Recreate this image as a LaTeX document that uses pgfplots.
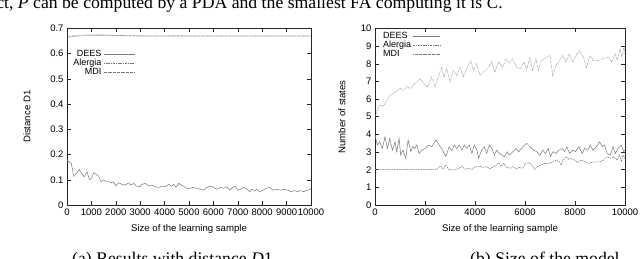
\documentclass[border=0pt]{standalone}
\usepackage{pgfplots}
\pgfplotsset{compat=1.18}
\usepackage{fontspec}
\setmainfont{Liberation Sans}
\newfontfamily\seriffont{Liberation Serif}
\definecolor{lgray}{gray}{0.48}
\pgfplotsset{gp/.style={
  scale only axis, tick align=inside, major tick length=4pt,
  axis line style={black!85, line width=0.5pt},
  every tick/.style={black!85, line width=0.5pt},
  tick label style={font=\fontsize{9.5}{11}\selectfont},
  label style={font=\fontsize{9.6}{11}\selectfont},
  /pgf/number format/assume math mode=true,
  scaled ticks=false,
  x tick label style={/pgf/number format/1000 sep={}},
  legend style={draw=none, fill=none, font=\fontsize{9}{9}\selectfont, row sep=-3pt, inner sep=0pt},
  legend plot pos=right,
  xmin=0, xmax=10000,
}}
\begin{document}
\begin{tikzpicture}[x=1pt,y=1pt]
\useasboundingbox (0,0) rectangle (640,259);
\clip (0,0) rectangle (640,259);
\node[anchor=base east, font=\seriffont\fontsize{17.7}{20}\selectfont, inner sep=0] at (503,250) {fact, \textit{P} can be computed by a PDA and the smallest FA computing it is \textit{C}.};
\node[anchor=base west, font=\seriffont\fontsize{17.7}{20}\selectfont, inner sep=0] at (72,-5.5) {(a) Results with distance \textit{D}1};
\node[anchor=base west, font=\seriffont\fontsize{17.7}{20}\selectfont, inner sep=0] at (470,-5.5) {(b) Size of the model};

\begin{axis}[gp, at={(67pt,54pt)}, anchor=south west, width=244pt, height=176.5pt,
  ymin=0, ymax=0.7, ytick={0,0.1,0.2,0.3,0.4,0.5,0.6,0.7},
  yticklabels={0,0.1,0.2,0.3,0.4,0.5,0.6,0.7},
  xtick={0,1000,2000,3000,4000,5000,6000,7000,8000,9000,10000},
  xlabel={Size of the learning sample}, ylabel={Distance D1},
  xlabel style={at={(axis description cs:0.5,-0.136)}, anchor=center},
  ylabel style={at={(axis description cs:-0.164,0.5)}, anchor=center},
  legend style={at={(axis description cs:0.279,0.89)}, anchor=north east, cells={anchor=east}},
  legend image code/.code={\draw[#1] (0pt,0pt) -- (31pt,0pt);},
]
\addplot[lgray, line width=0.5pt] coordinates {
(0,0.178)(96,0.171)(178,0.164)(273,0.114)(383,0.125)(505,0.141)(615,0.122)(710,0.112)(820,0.132)(915,0.101)(997,0.105)(1093,0.128)(1202,0.121)(1298,0.114)(1393,0.092)(1503,0.099)(1612,0.092)(1708,0.092)(1817,0.088)(1912,0.092)(1994,0.076)(2117,0.088)(2254,0.082)(2391,0.079)(2527,0.088)(2623,0.079)(2732,0.086)(2841,0.075)(2978,0.072)(3073,0.082)(3210,0.086)(3347,0.075)(3483,0.079)(3620,0.072)(3757,0.070)(3893,0.075)(4030,0.072)(4166,0.082)(4276,0.075)(4371,0.082)(4467,0.070)(4576,0.086)(4685,0.079)(4781,0.075)(4890,0.066)(5027,0.066)(5163,0.070)(5327,0.066)(5464,0.062)(5601,0.059)(5737,0.070)(5874,0.075)(6010,0.070)(6147,0.062)(6284,0.070)(6420,0.066)(6557,0.072)(6666,0.059)(6789,0.070)(6898,0.075)(6994,0.059)(7103,0.062)(7240,0.070)(7376,0.062)(7486,0.053)(7581,0.062)(7690,0.057)(7786,0.062)(7895,0.053)(8032,0.059)(8169,0.066)(8305,0.070)(8442,0.059)(8579,0.062)(8742,0.059)(8906,0.062)(9043,0.059)(9180,0.053)(9316,0.057)(9453,0.053)(9562,0.057)(9699,0.053)(9835,0.059)(9945,0.060)(10000,0.066)};
\addlegendentry{DEES}
\addplot[lgray, line width=0.5pt, dash pattern=on 1.6pt off 0.8pt] coordinates {
(0,0.664)(200,0.668)(400,0.670)(700,0.671)(1000,0.672)(1300,0.673)(1600,0.673)(2000,0.672)(2500,0.671)(3000,0.670)(4000,0.670)(5000,0.670)(6000,0.670)(7000,0.670)(8000,0.670)(9000,0.670)(10000,0.670)};
\addlegendentry{Alergia}
\addplot[lgray, line width=0.5pt, dash pattern=on 0.5pt off 0.8pt] coordinates {
(0,0.665)(150,0.669)(300,0.672)(500,0.673)(700,0.674)(900,0.675)(1100,0.674)(1300,0.676)(1500,0.675)(1700,0.674)(1900,0.673)(2200,0.672)(2600,0.671)(3000,0.672)(3500,0.671)(4000,0.671)(4500,0.672)(5000,0.671)(6000,0.671)(7000,0.671)(8000,0.671)(9000,0.671)(10000,0.671)};
\addlegendentry{MDI}
\end{axis}

\begin{axis}[gp, at={(375pt,54pt)}, anchor=south west, width=250pt, height=176.5pt,
  ymin=0, ymax=10, ytick={0,1,2,3,4,5,6,7,8,9,10},
  xtick={0,2000,4000,6000,8000,10000},
  xlabel={Size of the learning sample}, ylabel={Number of states},
  xlabel style={at={(axis description cs:0.5,-0.136)}, anchor=center},
  ylabel style={at={(axis description cs:-0.132,0.5)}, anchor=center},
  legend style={at={(axis description cs:0.024,0.99)}, anchor=north west, cells={anchor=west}},
  legend image code/.code={\draw[#1] (16pt,0pt) -- (43pt,0pt);},
]
\addplot[lgray, line width=0.5pt] coordinates {
(0,3.96)(94,3.40)(187,3.58)(294,3.20)(401,3.87)(495,3.20)(588,3.77)(695,3.11)(802,3.58)(869,3.02)(963,3.77)(1029,2.83)(1123,3.11)(1230,2.64)(1324,3.68)(1431,3.02)(1497,3.30)(1591,3.20)(1671,3.40)(1765,2.92)(1872,3.11)(2005,3.20)(2139,3.40)(2273,3.30)(2433,3.68)(2567,3.40)(2700,3.11)(2834,2.74)(2968,3.30)(3075,3.08)(3169,3.40)(3276,3.20)(3369,3.40)(3476,3.11)(3570,3.40)(3677,3.20)(3770,3.40)(3877,2.92)(3971,3.40)(4078,3.11)(4145,2.64)(4265,3.11)(4372,3.30)(4466,2.92)(4573,3.40)(4679,3.20)(4773,2.83)(4867,3.11)(4974,2.92)(5081,2.83)(5175,2.74)(5282,3.02)(5375,2.83)(5509,3.02)(5643,3.20)(5749,3.02)(5910,3.30)(6070,3.49)(6204,3.30)(6337,3.11)(6471,3.02)(6605,2.83)(6712,3.11)(6819,2.92)(6926,3.20)(7019,2.74)(7113,3.02)(7247,2.92)(7354,3.11)(7487,3.20)(7581,3.02)(7675,3.30)(7781,2.92)(7915,3.11)(8022,3.02)(8156,3.30)(8289,2.92)(8383,3.20)(8517,3.11)(8610,3.40)(8717,3.11)(8851,3.30)(8985,3.58)(9092,3.30)(9185,3.40)(9279,2.92)(9413,2.83)(9520,3.30)(9613,2.92)(9720,3.20)(9854,3.40)(9947,3.02)(10000,3.11)};
\addlegendentry{DEES}
\addplot[lgray, line width=0.5pt, dash pattern=on 1.6pt off 0.8pt] coordinates {
(0,2.0)(500,2.0)(1000,2.0)(1500,2.0)(2000,2.0)(2433,2.0)(2540,2.13)(2634,2.20)(2727,2.06)(2834,2.26)(2941,2.02)(3102,1.98)(3262,2.02)(3369,2.08)(3476,2.20)(3610,2.02)(3744,2.08)(3877,2.02)(4038,2.17)(4198,2.20)(4332,2.13)(4466,2.17)(4600,2.06)(4733,2.17)(4867,2.26)(4947,2.40)(5041,2.17)(5148,2.36)(5268,2.13)(5402,2.08)(5509,2.17)(5643,2.06)(5776,2.13)(5910,2.08)(6017,2.36)(6150,2.40)(6284,2.26)(6378,2.02)(6511,2.20)(6645,2.26)(6779,2.36)(6979,2.36)(7113,2.45)(7247,2.55)(7380,2.45)(7447,2.26)(7514,2.55)(7648,2.74)(7755,2.58)(7848,2.64)(7982,2.55)(8116,2.40)(8249,2.55)(8383,2.45)(8517,2.36)(8650,2.40)(8824,2.45)(8985,2.45)(9145,2.55)(9279,2.74)(9413,2.64)(9547,2.74)(9680,2.55)(9787,2.83)(9854,2.45)(9920,2.83)(10000,2.64)};
\addlegendentry{Alergia}
\addplot[lgray, line width=0.5pt, dash pattern=on 0.5pt off 0.8pt] coordinates {
(0,4.99)(173,5.65)(333,5.60)(467,5.93)(600,6.20)(800,6.40)(1000,6.60)(1133,6.50)(1293,6.72)(1400,6.60)(1600,6.88)(1800,7.15)(1933,6.90)(2093,6.68)(2267,7.25)(2400,6.65)(2573,7.44)(2667,7.80)(2760,7.25)(2867,7.72)(3000,6.97)(3133,7.63)(3267,7.34)(3400,7.80)(3533,7.29)(3667,7.72)(3827,8.19)(3933,7.63)(4067,8.00)(4200,7.34)(4400,7.63)(4533,7.80)(4667,8.10)(4800,7.53)(4933,8.10)(5107,7.80)(5240,8.28)(5373,8.04)(5507,8.28)(5667,7.80)(5827,7.72)(5960,8.10)(6067,7.67)(6200,8.38)(6307,7.63)(6440,8.28)(6533,7.63)(6667,8.19)(6867,8.38)(7000,8.47)(7107,7.34)(7240,7.90)(7373,8.19)(7507,8.47)(7640,8.10)(7773,8.56)(7907,8.10)(8040,8.47)(8173,8.75)(8333,8.38)(8467,7.80)(8600,8.47)(8733,8.19)(8933,8.19)(9133,8.28)(9333,8.38)(9467,8.10)(9600,8.56)(9693,8.19)(9800,8.85)(9867,8.38)(9960,8.95)(10000,8.56)};
\addlegendentry{MDI}
\end{axis}
\end{tikzpicture}
\end{document}
